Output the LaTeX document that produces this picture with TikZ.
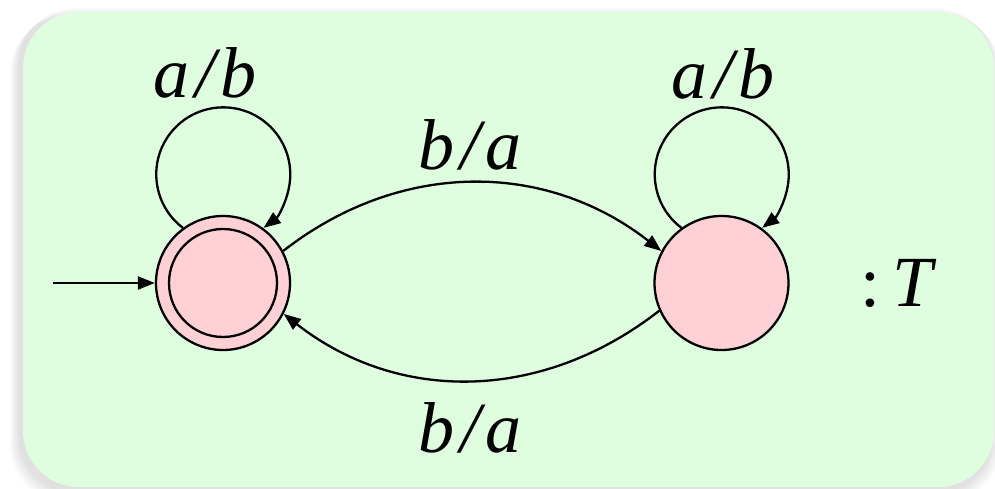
\documentclass[tikz,border=0pt]{standalone}
\usepackage{fontspec}
\setmainfont{Liberation Serif}
\usetikzlibrary{arrows.meta}
\definecolor{bggreen}{RGB}{223,253,223}
\definecolor{statepink}{RGB}{255,209,212}
\tikzset{
  state/.style={circle, draw=black, line width=2.3pt, fill=statepink, inner sep=0pt, minimum size=134pt},
  edge/.style={line width=2.3pt, -{Triangle[length=17pt,width=13pt]}},
  lbl/.style={anchor=base, inner sep=0pt, font=\fontsize{72}{80}\selectfont\itshape}
}
\begin{document}
\begin{tikzpicture}[x=1pt,y=1pt]
\useasboundingbox (0,0) rectangle (995,488);
% soft shadow
\foreach \i in {1,...,10}{
  \fill[black, opacity=0.012, rounded corners=56pt] (23-\i-3,{476-\i+5}) rectangle (994+\i-3,{-4-\i});
}
\fill[bggreen, rounded corners=56pt] (23,476) rectangle (994,1);
% states
\node[state] (s1) at (223,205) {};
\draw[line width=2.3pt] (s1.center) circle[radius=54pt];
\node[state] (s2) at (721.5,205) {};
\coordinate (init) at (53,205);
% connectors
\draw[edge] (init) -- (s1.west);
\draw[edge] (s1.126) arc[start angle=233, end angle=-53, radius=67pt];
\draw[edge] (s2.126) arc[start angle=233, end angle=-53, radius=67pt];
\draw[edge] (s1.28) to[out=38,in=142] (s2.152);
\draw[edge] (s2.204) to[out=218,in=-38] (s1.333);
% labels
\node[lbl] (l1) at (205,390) {a\kern6pt/\kern5pt b};
\node[lbl] (l2) at (723,389) {a\kern6pt/\kern5pt b};
\node[lbl] (l3) at (470,318) {b\kern6pt/\kern5pt a};
\node[lbl] (l4) at (470,36) {b\kern6pt/\kern5pt a};
\node[lbl] (l5) at (897,182) {\upshape:\kern12pt\itshape T};
\end{tikzpicture}
\end{document}
